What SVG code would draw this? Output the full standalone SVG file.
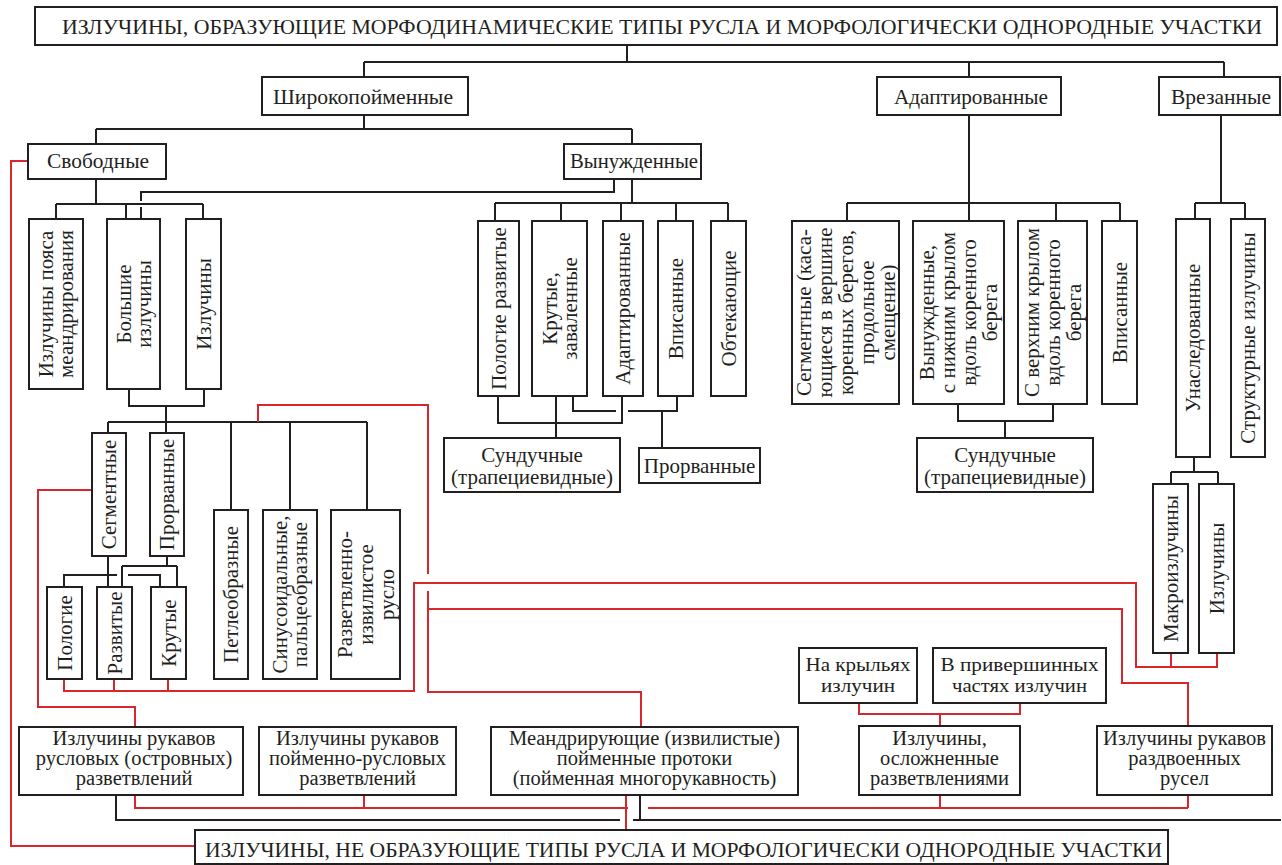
<svg xmlns="http://www.w3.org/2000/svg" width="1282" height="865" viewBox="0 0 1282 865" font-family="'Liberation Serif', 'DejaVu Serif', serif">
<style>
.b{fill:#fff;stroke:#231f20;stroke-width:2}
.k{fill:none;stroke:#231f20;stroke-width:2}
.r{fill:none;stroke:#d7262c;stroke-width:2}
text{font-family:'Liberation Serif','DejaVu Serif',serif;fill:#231f20;font-size:21px}
.c{text-anchor:middle}
.h{font-size:20.5px;text-anchor:middle}
.s{font-size:18px;text-anchor:middle}
</style>
<rect width="1282" height="865" fill="#fff"/>
<g id="connectors">
<g class="k">
<path d="M627,45V62M364,62H1224M364,62V77M969,62V77M1224,62V77"/>
<path d="M364,115V129M96,129H632M96,129V144M632,129V144"/>
<path d="M96,179V204M56,204H203M56,204V219M126,204V219M203,204V219"/>
<path d="M614,179V192H141V201M141,207V219"/>
<path d="M632,179V203M495,203H728M495,203V221M561,203V221M621,203V221M676,203V221M728,203V221"/>
<path d="M498,396V423H622V396M556,396V438"/>
<path d="M573,396V411H616M628,411H677V396M662,411V448"/>
<path d="M969,115V221M847,203H1120M847,203V221M1056,203V221M1120,203V221"/>
<path d="M958,404V421H1053V404M1005,421V438"/>
<path d="M1221,115V203M1195,203H1245M1195,203V219M1245,203V219"/>
<path d="M1194,457V472M1171,472H1218M1171,472V484M1218,472V484"/>
<path d="M129,389V406H204V389M166,406V422M108,422H367M108,422V433M166,422V433M231,422V510M290,422V510M367,422V510"/>
<path d="M108,556V587M64,587V575H117M128,575H160V587"/>
<path d="M167,556V566M122,566H177M122,566V587M177,566V587"/>
<path d="M116,795V820H620M633,820H1281M640,795V820"/>
</g>
<g class="r">
<path d="M28,161H11V846H195"/>
<path d="M92,490H38V707H135V727"/>
<path d="M258,422V405H428V574M428,591V692H641V727M428,609H1122V683H1188V726"/>
<path d="M64,679V691H414V583H1136V667H1217V653M114,679V691M168,679V691M1171,653V667"/>
<path d="M859,703V714H1020V703M940,714V726"/>
<path d="M135,795V808H628M648,808H1188M364,795V808M940,795V808M1188,795V808"/>
<path d="M626,795V830"/>
</g>
</g>
<g id="n-top"><rect class="b" x="35" y="7" width="1242" height="38"/><text class="c" x="662" y="34" font-size="19" textLength="1200" lengthAdjust="spacingAndGlyphs">ИЗЛУЧИНЫ, ОБРАЗУЮЩИЕ МОРФОДИНАМИЧЕСКИЕ ТИПЫ РУСЛА И МОРФОЛОГИЧЕСКИ ОДНОРОДНЫЕ УЧАСТКИ</text></g>
<g id="n-shirok"><rect class="b" x="262" y="77" width="206" height="38"/><text class="c" x="363" y="104" textLength="180" lengthAdjust="spacingAndGlyphs">Широкопойменные</text></g>
<g id="n-adapt"><rect class="b" x="877" y="77" width="184" height="38"/><text class="c" x="971" y="104" textLength="154" lengthAdjust="spacingAndGlyphs">Адаптированные</text></g>
<g id="n-vrez"><rect class="b" x="1159" y="77" width="121" height="38"/><text class="c" x="1221" y="104" textLength="100" lengthAdjust="spacingAndGlyphs">Врезанные</text></g>
<g id="n-svob"><rect class="b" x="28" y="144" width="138" height="35"/><text class="c" x="98" y="168" textLength="102" lengthAdjust="spacingAndGlyphs">Свободные</text></g>
<g id="n-vynuzh"><rect class="b" x="564" y="144" width="137" height="35"/><text class="c" x="634" y="168" textLength="128" lengthAdjust="spacingAndGlyphs">Вынужденные</text></g>
<g id="n-poyas"><rect class="b" x="29" y="219" width="54" height="170"/><text class="c" transform="translate(56,304) rotate(-90)"><tspan x="0" y="-3">Излучины пояса</tspan><tspan x="0" y="17">меандрирования</tspan></text></g>
<g id="n-bolsh"><rect class="b" x="107" y="219" width="53" height="170"/><text class="c" transform="translate(133.5,304) rotate(-90)"><tspan x="0" y="-3">Большие</tspan><tspan x="0" y="17">излучины</tspan></text></g>
<g id="n-izl1"><rect class="b" x="186" y="219" width="35" height="170"/><text class="c" transform="translate(203.5,304) rotate(-90)" y="7">Излучины</text></g>
<g id="n-polog-razv"><rect class="b" x="478" y="221" width="41" height="175"/><text class="c" transform="translate(498.5,308.5) rotate(-90)" y="7">Пологие развитые</text></g>
<g id="n-krut-zaval"><rect class="b" x="532" y="221" width="55" height="175"/><text class="c" transform="translate(559.5,308.5) rotate(-90)"><tspan x="0" y="-3">Крутые,</tspan><tspan x="0" y="17">заваленные</tspan></text></g>
<g id="n-adapt2"><rect class="b" x="603" y="221" width="40" height="175"/><text class="c" transform="translate(623,308.5) rotate(-90)" y="7">Адаптированные</text></g>
<g id="n-vpis1"><rect class="b" x="658" y="221" width="35" height="175"/><text class="c" transform="translate(675.5,308.5) rotate(-90)" y="7">Вписанные</text></g>
<g id="n-obtek"><rect class="b" x="711" y="221" width="35" height="175"/><text class="c" transform="translate(728.5,308.5) rotate(-90)" y="7">Обтекающие</text></g>
<g id="n-sund1"><rect class="b" x="444" y="438" width="176" height="54"/><text class="c" x="532" y="462">Сундучные</text><text class="c" x="532" y="484">(трапециевидные)</text></g>
<g id="n-prorv1"><rect class="b" x="639" y="448" width="121" height="35"/><text class="c" x="699.5" y="473">Прорванные</text></g>
<g id="n-segm-a"><rect class="b" x="792" y="221" width="107" height="183"/><text class="c" transform="translate(845.5,312.5) rotate(-90)"><tspan x="0" y="-35">Сегментные (каса-</tspan><tspan x="0" y="-14">ющиеся в вершине</tspan><tspan x="0" y="7">коренных берегов,</tspan><tspan x="0" y="28">продольное</tspan><tspan x="0" y="49">смещение)</tspan></text></g>
<g id="n-vyn-a"><rect class="b" x="913" y="221" width="91" height="183"/><text class="c" transform="translate(958.5,312.5) rotate(-90)"><tspan x="0" y="-24.5">Вынужденные,</tspan><tspan x="0" y="-3.5">с нижним крылом</tspan><tspan x="0" y="17.5">вдоль коренного</tspan><tspan x="0" y="38.5">берега</tspan></text></g>
<g id="n-sverh"><rect class="b" x="1018" y="221" width="69" height="183"/><text class="c" transform="translate(1052.5,312.5) rotate(-90)"><tspan x="0" y="-14">С верхним крылом</tspan><tspan x="0" y="7">вдоль коренного</tspan><tspan x="0" y="28">берега</tspan></text></g>
<g id="n-vpis2"><rect class="b" x="1102" y="221" width="35" height="183"/><text class="c" transform="translate(1119.5,312.5) rotate(-90)" y="7">Вписанные</text></g>
<g id="n-sund2"><rect class="b" x="917" y="438" width="176" height="54"/><text class="c" x="1005" y="462">Сундучные</text><text class="c" x="1005" y="484">(трапециевидные)</text></g>
<g id="n-unasl"><rect class="b" x="1176" y="219" width="34" height="238"/><text class="c" transform="translate(1193,338) rotate(-90)" y="7">Унаследованные</text></g>
<g id="n-strukt"><rect class="b" x="1231" y="219" width="34" height="238"/><text class="c" transform="translate(1248,338) rotate(-90)" y="7">Структурные излучины</text></g>
<g id="n-makro"><rect class="b" x="1153" y="484" width="35" height="169"/><text class="c" transform="translate(1170.5,568.5) rotate(-90)" y="7">Макроизлучины</text></g>
<g id="n-izl2"><rect class="b" x="1199" y="484" width="35" height="169"/><text class="c" transform="translate(1216.5,568.5) rotate(-90)" y="7">Излучины</text></g>
<g id="n-segm"><rect class="b" x="92" y="433" width="34" height="123"/><text class="c" transform="translate(109,494.5) rotate(-90)" y="7">Сегментные</text></g>
<g id="n-prorv2"><rect class="b" x="150" y="433" width="34" height="123"/><text class="c" transform="translate(167,494.5) rotate(-90)" y="7">Прорванные</text></g>
<g id="n-polog"><rect class="b" x="47" y="587" width="35" height="92"/><text class="c" transform="translate(64.5,633) rotate(-90)" y="7">Пологие</text></g>
<g id="n-razv"><rect class="b" x="97" y="587" width="35" height="92"/><text class="c" transform="translate(114.5,633) rotate(-90)" y="7">Развитые</text></g>
<g id="n-krut"><rect class="b" x="151" y="587" width="35" height="92"/><text class="c" transform="translate(168.5,633) rotate(-90)" y="7">Крутые</text></g>
<g id="n-petle"><rect class="b" x="214" y="510" width="34" height="169"/><text class="c" transform="translate(231,594.5) rotate(-90)" y="7">Петлеобразные</text></g>
<g id="n-sinus"><rect class="b" x="263" y="510" width="54" height="169"/><text class="c" transform="translate(290,594.5) rotate(-90)"><tspan x="0" y="-3">Синусоидальные,</tspan><tspan x="0" y="17">пальцеобразные</tspan></text></g>
<g id="n-razvetv"><rect class="b" x="331" y="510" width="69" height="169"/><text class="c" transform="translate(365.5,594.5) rotate(-90)"><tspan x="0" y="-14">Разветвленно-</tspan><tspan x="0" y="7">извилистое</tspan><tspan x="0" y="28">русло</tspan></text></g>
<g id="n-krylya"><rect class="b" x="799" y="648" width="118" height="55"/><text class="s" x="858" y="671" textLength="105" lengthAdjust="spacingAndGlyphs">На крыльях</text><text class="s" x="858" y="692" textLength="74" lengthAdjust="spacingAndGlyphs">излучин</text></g>
<g id="n-priversh"><rect class="b" x="933" y="648" width="173" height="55"/><text class="s" x="1019.5" y="671" textLength="158" lengthAdjust="spacingAndGlyphs">В привершинных</text><text class="s" x="1019.5" y="692" textLength="135" lengthAdjust="spacingAndGlyphs">частях излучин</text></g>
<g id="n-b1"><rect class="b" x="19" y="727" width="224" height="68"/><text class="h" x="134" y="745">Излучины рукавов</text><text class="h" x="134" y="765">русловых (островных)</text><text class="h" x="134" y="785">разветвлений</text></g>
<g id="n-b2"><rect class="b" x="259" y="727" width="197" height="68"/><text class="h" x="357.5" y="745">Излучины рукавов</text><text class="h" x="357.5" y="765">пойменно-русловых</text><text class="h" x="357.5" y="785">разветвлений</text></g>
<g id="n-b3"><rect class="b" x="491" y="727" width="307" height="68"/><text class="h" x="644.5" y="745">Меандрирующие (извилистые)</text><text class="h" x="644.5" y="765">пойменные протоки</text><text class="h" x="644.5" y="785">(пойменная многорукавность)</text></g>
<g id="n-b4"><rect class="b" x="859" y="726" width="161" height="69"/><text class="h" x="939.5" y="745">Излучины,</text><text class="h" x="939.5" y="765">осложненные</text><text class="h" x="939.5" y="785">разветвлениями</text></g>
<g id="n-b5"><rect class="b" x="1097" y="726" width="175" height="69"/><text class="h" x="1184.5" y="745">Излучины рукавов</text><text class="h" x="1184.5" y="765">раздвоенных</text><text class="h" x="1184.5" y="785">русел</text></g>
<g id="n-bottom"><rect class="b" x="195" y="830" width="973" height="34"/><text class="c" x="683.5" y="857" textLength="957" lengthAdjust="spacingAndGlyphs">ИЗЛУЧИНЫ, НЕ ОБРАЗУЮЩИЕ ТИПЫ РУСЛА И МОРФОЛОГИЧЕСКИ ОДНОРОДНЫЕ УЧАСТКИ</text></g>
</svg>
